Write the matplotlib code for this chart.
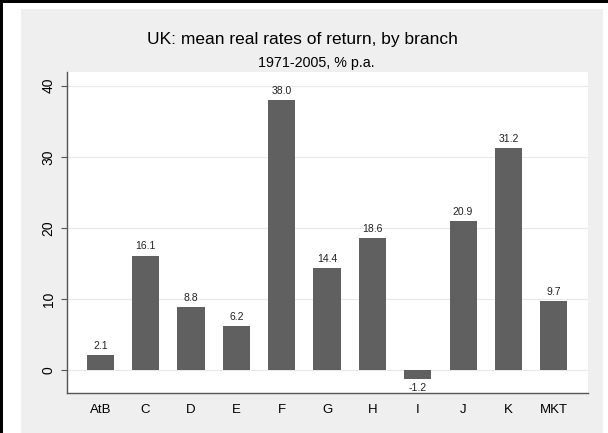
#!/usr/bin/env python3

'''
    Bar chart of UK mean real rates of return by branch, 1971-2005.
'''

import matplotlib.pyplot as plt
from matplotlib.patches import Rectangle

plt.rcParams['font.family'] = ['Liberation Sans', 'DejaVu Sans']

branches = ['AtB', 'C', 'D', 'E', 'F', 'G', 'H', 'I', 'J', 'K', 'MKT']
returns = [2.1, 16.1, 8.8, 6.2, 38.0, 14.4, 18.6, -1.2, 20.9, 31.2, 9.7]
yticks = [0, 10, 20, 30, 40]

W, H = 608, 433


def px(x0, y0, x1, y1):
    # pixel box (from top-left) -> figure fraction rect
    return (x0 / W, 1 - y1 / H, (x1 - x0) / W, (y1 - y0) / H)


def branch_chart():
    fig = plt.figure(figsize=(W / 100, H / 100), dpi=100)
    fig.patch.set_facecolor('white')

    # grey graph region and the black frame bits
    x, y, w, h = px(21, 9, 603, 433)
    fig.add_artist(Rectangle((x, y), w, h, transform=fig.transFigure,
                             facecolor='#efefef', edgecolor='none', zorder=0))
    x, y, w, h = px(0, 0, 3, 433)
    fig.add_artist(Rectangle((x, y), w, h, transform=fig.transFigure,
                             facecolor='black', edgecolor='none', zorder=1))
    x, y, w, h = px(0, 0, 608, 3)
    fig.add_artist(Rectangle((x, y), w, h, transform=fig.transFigure,
                             facecolor='black', edgecolor='none', zorder=1))

    ax = fig.add_axes(px(66.7, 71.7, 588.3, 392.7))
    ax.set_facecolor('white')
    pos = list(range(len(branches)))
    ax.bar(pos, returns, width=0.6, color='#606060', zorder=3)

    for p, v in zip(pos, returns):
        if v >= 0:
            ax.annotate('%.1f' % v, (p, v), xytext=(0, 3), textcoords='offset points',
                        ha='center', va='bottom', fontsize=7.5, color='#222222')
        else:
            ax.annotate('%.1f' % v, (p, v), xytext=(0, -3), textcoords='offset points',
                        ha='center', va='top', fontsize=7.5, color='#222222')

    ax.set_xlim(-0.74, 10.76)
    ax.set_ylim(-3.19, 41.97)
    ax.set_xticks(pos)
    ax.set_xticklabels(branches, fontsize=9.5)
    ax.tick_params(axis='x', length=0, pad=8)
    ax.set_yticks(yticks)
    ax.set_yticklabels([str(t) for t in yticks], rotation=90, va='center', fontsize=10)
    ax.tick_params(axis='y', length=4, width=0.8, color='#555555', pad=4)
    ax.grid(axis='y', color='#e8e8e8', linewidth=0.8, zorder=0)
    for s in ['top', 'right']:
        ax.spines[s].set_visible(False)
    for s in ['left', 'bottom']:
        ax.spines[s].set_color('#555555')
        ax.spines[s].set_linewidth(1.0)

    fig.text(147 / W, 1 - 44 / H, 'UK: mean real rates of return, by branch',
             ha='left', va='baseline', fontsize=12.5)
    fig.text(258 / W, 1 - 66.7 / H, '1971-2005, % p.a.',
             ha='left', va='baseline', fontsize=10.3)

    fig.savefig('out.png', dpi=100, facecolor=fig.get_facecolor())


if __name__ == "__main__":
    branch_chart()
